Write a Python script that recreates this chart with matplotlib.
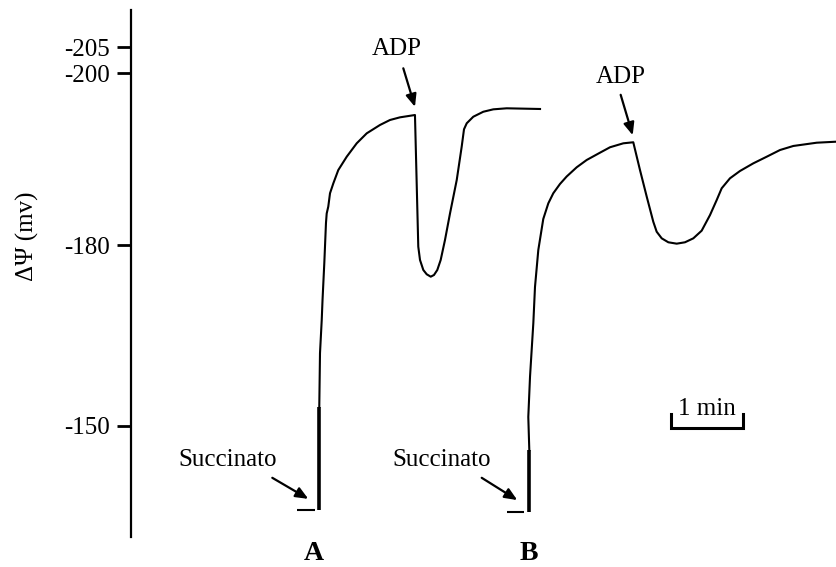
import numpy as np
import matplotlib
matplotlib.use("Agg")
import matplotlib.pyplot as plt

plt.rcParams['font.family'] = ['Liberation Serif', 'DejaVu Serif']

# ---------------- data ----------------
tick_values = [-205, -200, -180, -150]
tick_labels = ['-205', '-200', '-180', '-150']
y_label = 'ΔΨ (mv)'

# trace A (time in minutes, potential in mV)
a_base_t = [2.306, 2.556]
a_base_mv = [-136.05, -136.05]
a_jump_t = [2.611, 2.611]
a_jump_mv = [-136.05, -153.2]
a_t = [2.615, 2.625, 2.649, 2.660, 2.685, 2.708, 2.718, 2.740, 2.764, 2.810, 2.879,
       2.996, 3.135, 3.274, 3.458, 3.597, 3.736, 3.944,
       3.990, 4.014, 4.060, 4.107, 4.163, 4.208, 4.254, 4.301, 4.361, 4.431, 4.524,
       4.593, 4.625, 4.663, 4.754, 4.893, 5.032, 5.218, 5.681]
a_mv = [-153.2, -162.1, -167.6, -170.9, -177.1, -182.6, -183.7, -184.5, -186.05, -187.2,
        -188.75, -190.3, -191.86, -193.02, -193.99, -194.57, -194.88, -195.15,
        -179.77, -177.56, -175.9, -175.19, -174.79, -175.07, -175.9, -177.56, -180.62,
        -183.72, -187.59, -191.47, -193.49, -194.19, -194.95, -195.53, -195.81, -195.93,
        -195.85]

# trace B
b_base_t = [5.218, 5.463]
b_base_mv = [-135.7, -135.7]
b_jump_t = [5.532, 5.532]
b_jump_mv = [-135.7, -146.0]
b_t = [5.532, 5.518, 5.542, 5.588, 5.611, 5.657, 5.726, 5.796, 5.865, 5.958, 6.051,
       6.190, 6.329, 6.514, 6.653, 6.838, 6.976,
       7.069, 7.163, 7.254, 7.301, 7.371, 7.463, 7.579, 7.694, 7.810, 7.926, 8.042,
       8.135, 8.204, 8.319, 8.458, 8.643, 8.829, 9.014, 9.199, 9.524, 9.801]
b_mv = [-146.0, -151.5, -158.2, -167.1, -173.08, -179.22, -183.06, -184.88, -186.05,
        -187.13, -188.0, -189.07, -189.92, -190.77, -191.40, -191.86, -191.98,
        -188.76, -185.65, -182.74, -181.58, -180.81, -180.35, -180.19, -180.35, -180.81,
        -181.70, -183.52, -185.27, -186.63, -187.79, -188.64, -189.53, -190.30, -191.08,
        -191.55, -191.93, -192.05]

# annotations: (text, text_t, text_mv, arrow_start_t, arrow_start_mv, tip_t, tip_mv)
adp_a = ('ADP', 3.694, -204.7, 3.782, -200.96, 3.944, -196.1)
adp_b = ('ADP', 6.806, -199.6, 6.801, -197.5, 6.968, -192.8)
suc_a = ('Succinato', 1.347, -144.35, 1.9625, -141.4, 2.4625, -137.9)
suc_b = ('Succinato', 4.319, -144.35, 4.871, -141.4, 5.365, -137.7)
panel_labels = [('A', 2.542), ('B', 5.528)]
scale_bar_start = 7.5
scale_bar_len = 1.0   # minutes
scale_bar_label = '1 min'

# ---------------- axis calibration (piecewise linear mV axis) ----------------
T = np.array([-205.0, -200.0, -180.0, -150.0])
P = np.array([47.3, 73.3, 245.3, 426.0])
s_lo = (P[1] - P[0]) / (T[1] - T[0])
s_hi = (P[3] - P[2]) / (T[3] - T[2])


def fwd(v):
    v = np.asarray(v, dtype=float)
    p = np.interp(v, T, P)
    p = np.where(v > T[-1], P[-1] + (v - T[-1]) * s_hi, p)
    p = np.where(v < T[0], P[0] + (v - T[0]) * s_lo, p)
    return p


def inv(p):
    p = np.asarray(p, dtype=float)
    v = np.interp(p, P, T)
    v = np.where(p > P[-1], T[-1] + (p - P[-1]) / s_hi, v)
    v = np.where(p < P[0], T[0] + (p - P[0]) / s_lo, v)
    return v


W, H = 837, 567
FS = 18
fig = plt.figure(figsize=(W / 100, H / 100), dpi=100)
ax = fig.add_axes([131 / W, (H - 537) / H, (W - 131) / W, (537 - 10) / H])
ax.set_yscale('function', functions=(fwd, inv))
ax.set_xlim(0, (W - 131) / 72)
ax.set_ylim(float(inv(537)), float(inv(10)))

for s in ['top', 'right', 'bottom']:
    ax.spines[s].set_visible(False)
ax.spines['left'].set_linewidth(1.6)
ax.set_xticks([])
ax.set_yticks(tick_values)
ax.set_yticklabels(tick_labels)
ax.minorticks_off()
ax.tick_params(axis='y', direction='out', length=10, width=2.0, pad=5, labelsize=FS)

fig.text(27 / W, 1 - 236 / H, y_label, rotation=90, ha='center', va='center', fontsize=FS)

lw_thin = 1.5
lw_thick = 2.6
ax.plot(a_base_t, a_base_mv, color='black', lw=1.5, solid_capstyle='butt')
ax.plot(a_jump_t, a_jump_mv, color='black', lw=lw_thick, solid_capstyle='butt')
ax.plot(a_t, a_mv, color='black', lw=lw_thin, solid_joinstyle='round')
ax.plot(b_base_t, b_base_mv, color='black', lw=1.5, solid_capstyle='butt')
ax.plot(b_jump_t, b_jump_mv, color='black', lw=lw_thick, solid_capstyle='butt')
ax.plot(b_t, b_mv, color='black', lw=lw_thin, solid_joinstyle='round')

for txt, tx, ty, sx, sy, ex, ey in [adp_a, adp_b, suc_a, suc_b]:
    ax.text(tx, ty, txt, ha='center', va='center', fontsize=FS)
    ax.annotate('', xy=(ex, ey), xytext=(sx, sy),
                arrowprops=dict(arrowstyle='-|>,head_length=0.75,head_width=0.32',
                                color='black', lw=1.6, shrinkA=0, shrinkB=0))

for lab, lt in panel_labels:
    ax.text(lt, float(inv(553)), lab, ha='center', va='center', fontsize=20,
            fontweight='bold', clip_on=False)

yb = float(inv(428))
yt = float(inv(414))
ax.plot([scale_bar_start, scale_bar_start, scale_bar_start + scale_bar_len,
         scale_bar_start + scale_bar_len], [yt, yb, yb, yt], color='black', lw=2.2,
        solid_joinstyle='miter')
ax.text(scale_bar_start + scale_bar_len / 2, float(inv(409)), scale_bar_label,
        ha='center', va='center', fontsize=FS)

fig.savefig('out.png', dpi=100)
